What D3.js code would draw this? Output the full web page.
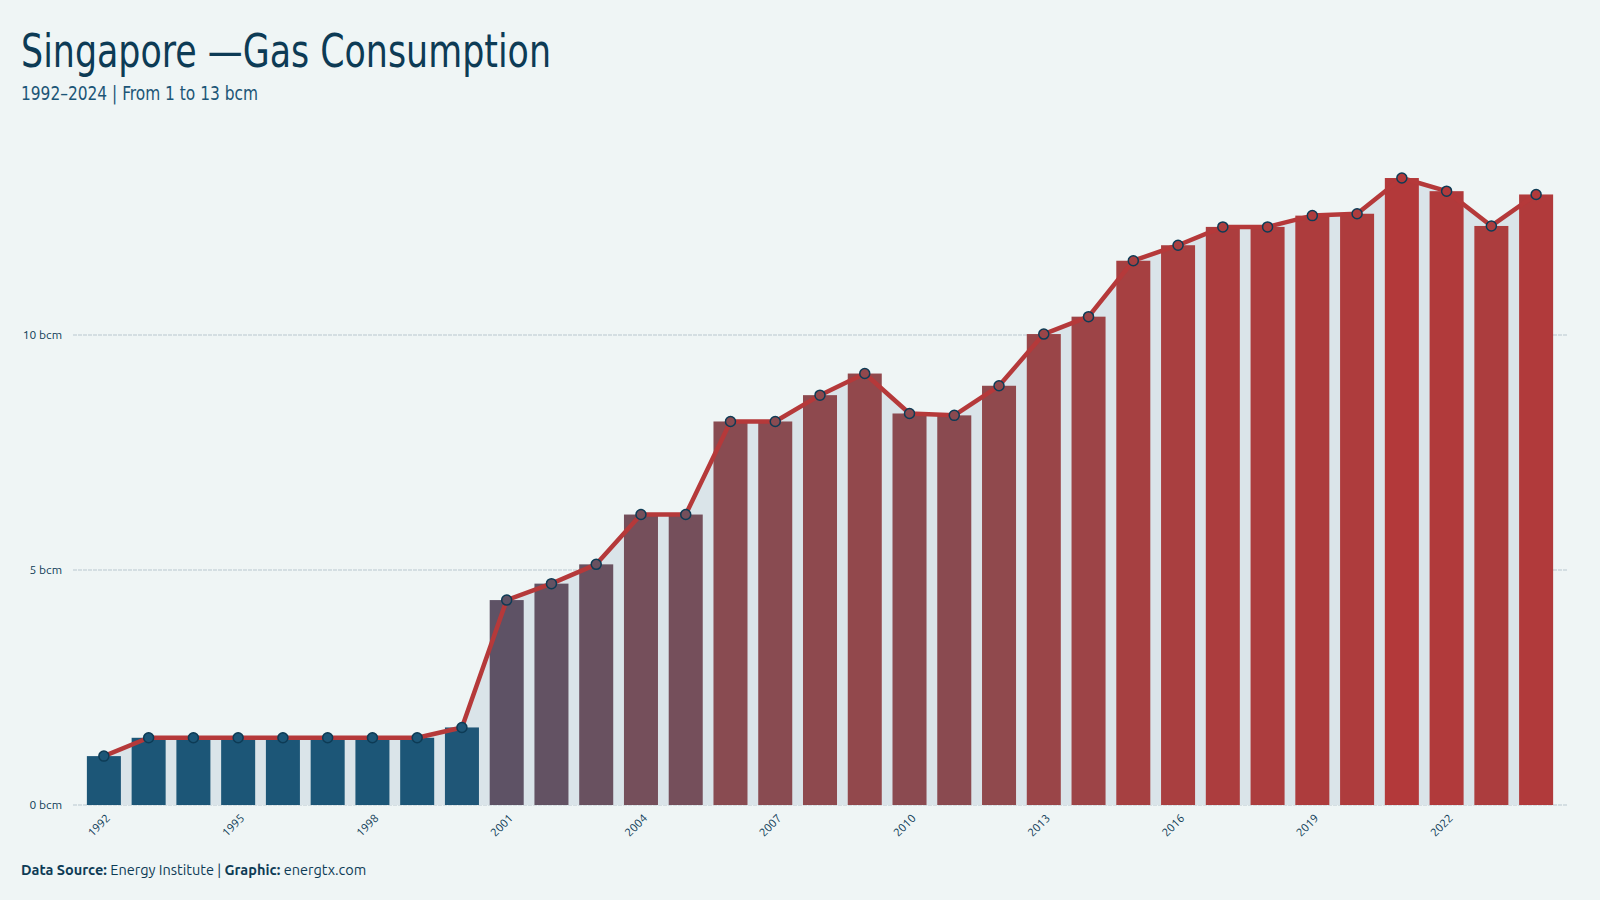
<!DOCTYPE html>
<html>
<head>
<meta charset="utf-8">
<script src="https://cdn.jsdelivr.net/npm/d3@7"></script>
<style>
  html, body { margin: 0; padding: 0; background: #eff5f5; }
  svg { display: block; }
</style>
</head>
<body>
<script>
// Singapore gas consumption, bcm per year
var years = [1992,1993,1994,1995,1996,1997,1998,1999,2000,2001,2002,2003,2004,2005,2006,2007,
             2008,2009,2010,2011,2012,2013,2014,2015,2016,2017,2018,2019,2020,2021,2022,2023,2024];
var gasValues = [1.04,1.43,1.43,1.43,1.43,1.43,1.43,1.43,1.65,4.36,4.71,5.12,6.18,6.18,8.16,8.16,
                 8.72,9.18,8.33,8.29,8.92,10.02,10.39,11.58,11.91,12.30,12.30,12.54,12.58,13.34,13.06,12.32,12.99];
var yTicks = [0, 5, 10];
var xTickYears = [1992,1995,1998,2001,2004,2007,2010,2013,2016,2019,2022];

var data = years.map(function(d, i){ return {year: d, value: gasValues[i]}; });

var width = 1600, height = 900;
var margin = {left: 73, right: 33, bottom: 95};

var svg = d3.select("body").append("svg").attr("width", width).attr("height", height);
svg.append("rect").attr("width", width).attr("height", height).attr("fill", "#eff5f5");

var x = d3.scaleBand()
    .domain(years)
    .range([margin.left, width - margin.right])
    .paddingInner(0.24)
    .paddingOuter(0.31);

var y = d3.scaleLinear()
    .domain([0, 14])
    .range([805, 147]);

// bar colour goes from blue to red with the value
var color = d3.scalePow().exponent(0.7)
    .domain([1.6, 13.3])
    .range(["#1c5677", "#b3393a"])
    .interpolate(d3.interpolateLab)
    .clamp(true);

var cx = function(d){ return x(d.year) + x.bandwidth() / 2; };

// gridlines
svg.append("g").selectAll("line")
  .data(yTicks)
  .join("line")
    .attr("x1", margin.left).attr("x2", width - margin.right)
    .attr("y1", function(d){ return y(d); }).attr("y2", function(d){ return y(d); })
    .attr("stroke", "#d4dee2")
    .attr("stroke-width", 2)
    .attr("stroke-dasharray", "4,1");

var yAxis = d3.axisLeft(y).tickValues(yTicks).tickSize(0).tickPadding(11)
    .tickFormat(function(d){ return d + " bcm"; });
svg.append("g")
    .attr("transform", "translate(" + margin.left + ",0)")
    .call(yAxis)
    .call(function(g){ g.select(".domain").remove(); })
    .selectAll("text")
      .attr("font-family", "Ubuntu, 'Open Sans', sans-serif")
      .attr("font-size", 12)
      .attr("fill", "#0d3b55");

// light area under the line
var area = d3.area().x(cx).y0(y(0)).y1(function(d){ return y(d.value); });
svg.append("path").datum(data).attr("d", area).attr("fill", "#dae4e9");

svg.append("g").selectAll("rect")
  .data(data)
  .join("rect")
    .attr("x", function(d){ return x(d.year); })
    .attr("y", function(d){ return y(d.value); })
    .attr("width", x.bandwidth())
    .attr("height", function(d){ return y(0) - y(d.value); })
    .attr("fill", function(d){ return color(d.value); });

var line = d3.line().x(cx).y(function(d){ return y(d.value); });
svg.append("path").datum(data)
    .attr("d", line)
    .attr("fill", "none")
    .attr("stroke", "#b5393a")
    .attr("stroke-width", 4.5)
    .attr("stroke-linejoin", "round");

svg.append("g").selectAll("circle")
  .data(data)
  .join("circle")
    .attr("cx", cx)
    .attr("cy", function(d){ return y(d.value); })
    .attr("r", 5)
    .attr("fill", function(d){ return color(d.value); })
    .attr("stroke", "#0d3b55")
    .attr("stroke-width", 1.5);

// x labels, rotated
var xAxis = d3.axisBottom(x).tickValues(xTickYears).tickSize(0).tickPadding(0);
svg.append("g")
    .attr("transform", "translate(0," + y(0) + ")")
    .call(xAxis)
    .call(function(g){ g.select(".domain").remove(); })
    .selectAll("text")
      .attr("font-family", "Ubuntu, 'Open Sans', sans-serif")
      .attr("font-size", 11.5)
      .attr("fill", "#0d3b55")
      .attr("text-anchor", "end")
      .attr("dy", "0")
      .attr("transform", "translate(7,14) rotate(-45)");

// titles
svg.append("text")
    .attr("x", 21).attr("y", 67)
    .attr("font-family", "'DejaVu Sans Condensed', 'DejaVu Sans', sans-serif")
    .attr("font-size", 46)
    .attr("textLength", 530)
    .attr("lengthAdjust", "spacingAndGlyphs")
    .attr("fill", "#0d3b55")
    .text("Singapore —Gas Consumption");

svg.append("text")
    .attr("x", 21).attr("y", 100)
    .attr("font-family", "'DejaVu Sans Condensed', 'DejaVu Sans', sans-serif")
    .attr("font-size", 20)
    .attr("textLength", 237)
    .attr("lengthAdjust", "spacingAndGlyphs")
    .attr("fill", "#1c5577")
    .text("1992–2024 | From 1 to 13 bcm");

var foot = svg.append("text")
    .attr("x", 21).attr("y", 875)
    .attr("font-family", "Ubuntu, 'Open Sans', sans-serif")
    .attr("font-size", 14.5)
    .attr("fill", "#0d3b55");
foot.append("tspan").attr("font-weight", "bold").text("Data Source: ");
foot.append("tspan").text("Energy Institute | ");
foot.append("tspan").attr("font-weight", "bold").text("Graphic: ");
foot.append("tspan").text("energtx.com");
</script>
</body>
</html>
